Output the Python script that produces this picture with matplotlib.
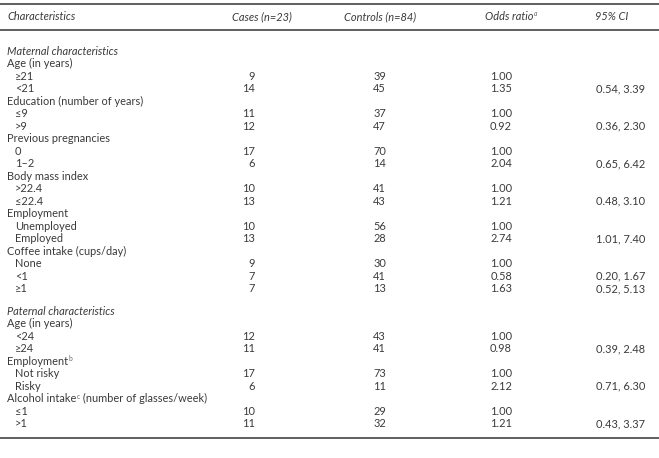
import matplotlib.pyplot as plt

plt.rcParams['font.family'] = ['Lato', 'DejaVu Sans']

# table content ("^x" marks a footnote letter)
labels = [
    "Maternal characteristics", "Age (in years)", "\u226521", "<21",
    "Education (number of years)", "\u22649", ">9",
    "Previous pregnancies", "0", "1\u20132",
    "Body mass index", ">22.4", "\u226422.4",
    "Employment", "Unemployed", "Employed",
    "Coffee intake (cups/day)", "None", "<1", "\u22651",
    "Paternal characteristics", "Age (in years)", "<24", "\u226524",
    "Employment^b", "Not risky", "Risky",
    "Alcohol intake^c (number of glasses/week)", "\u22641", ">1",
]
# 0 = section heading, 1 = variable, 2 = category
levels = [0, 1, 2, 2, 1, 2, 2, 1, 2, 2, 1, 2, 2, 1, 2, 2, 1, 2, 2, 2,
          0, 1, 2, 2, 1, 2, 2, 1, 2, 2]
cases = [None, None, 9, 14, None, 11, 12, None, 17, 6, None, 10, 13, None, 10, 13,
         None, 9, 7, 7, None, None, 12, 11, None, 17, 6, None, 10, 11]
controls = [None, None, 39, 45, None, 37, 47, None, 70, 14, None, 41, 43, None, 56, 28,
            None, 30, 41, 13, None, None, 43, 41, None, 73, 11, None, 29, 32]
odds = [None, None, 1.00, 1.35, None, 1.00, 0.92, None, 1.00, 2.04, None, 1.00, 1.21,
        None, 1.00, 2.74, None, 1.00, 0.58, 1.63, None, None, 1.00, 0.98, None, 1.00,
        2.12, None, 1.00, 1.21]
ci_low = [None, None, None, 0.54, None, None, 0.36, None, None, 0.65, None, None, 0.48,
          None, None, 1.01, None, None, 0.20, 0.52, None, None, None, 0.39, None, None,
          0.71, None, None, 0.43]
ci_high = [None, None, None, 3.39, None, None, 2.30, None, None, 6.42, None, None, 3.10,
           None, None, 7.40, None, None, 1.67, 5.13, None, None, None, 2.48, None, None,
           6.30, None, None, 3.37]

headers = ["Characteristics", "Cases (n=23)", "Controls (n=84)", "Odds ratio^a", "95% CI"]

W, H = 659, 458
fig = plt.figure(figsize=(W / 100, H / 100), dpi=100)
ax = fig.add_axes([0, 0, 1, 1])
ax.set_xlim(0, W)
ax.set_ylim(H, 0)
ax.axis('off')
renderer = fig.canvas.get_renderer()

txt = '#3a3a3a'
fs = 7.9
base = 3.8  # baseline offset below the row centre


def put(x, y, s, ha='left', style='normal'):
    """Write s at baseline y; '^x' gives a small raised footnote letter."""
    parts = s.split('^')
    pieces = [(parts[0], False)]
    for p in parts[1:]:
        pieces.append((p[0], True))
        if p[1:]:
            pieces.append((p[1:], False))
    # measure total width first so centring works
    widths = []
    for seg, sup in pieces:
        t = ax.text(0, 0, seg, fontsize=fs * (0.6 if sup else 1), style=style)
        bb = t.get_window_extent(renderer)
        widths.append(bb.width if seg.strip() else fs * 0.35)
        t.remove()
    total = sum(widths)
    cx = {'left': x, 'center': x - total / 2, 'right': x - total}[ha]
    for (seg, sup), w in zip(pieces, widths):
        ax.text(cx, y - (3.5 if sup else 0), seg, ha='left', va='baseline',
                fontsize=fs * (0.6 if sup else 1), color=txt if not sup else '#666666',
                style=style)
        cx += w


# rules
ax.plot([0, W], [3.5, 3.5], color='#333333', lw=1.1)
ax.plot([0, W], [29.5, 29.5], color='#333333', lw=1.1)

# header row
hy = 16 + base
put(7, hy, headers[0], style='italic')
put(262, hy, headers[1], ha='center', style='italic')
put(380, hy, headers[2], ha='center', style='italic')
put(511, hy, headers[3], ha='center', style='italic')
put(612, hy, headers[4], ha='center', style='italic')

y = 51
step = 12.5
for i, lab in enumerate(labels):
    if levels[i] == 0 and i > 0:
        y += 10
    x = 7 if levels[i] < 2 else 15
    by = y + base
    put(x, by, lab, style='italic' if levels[i] == 0 else 'normal')
    if cases[i] is not None:
        put(255, by, str(cases[i]), ha='right')
    if controls[i] is not None:
        put(386, by, str(controls[i]), ha='right')
    if odds[i] is not None:
        put(512, by, f"{odds[i]:.2f}", ha='right')
    if ci_low[i] is not None:
        put(645, by, f"{ci_low[i]:.2f}, {ci_high[i]:.2f}", ha='right')
    y += step

ax.plot([0, W], [y + 2, y + 2], color='#333333', lw=1.1)

fig.savefig('out.png', dpi=100, facecolor='white')
